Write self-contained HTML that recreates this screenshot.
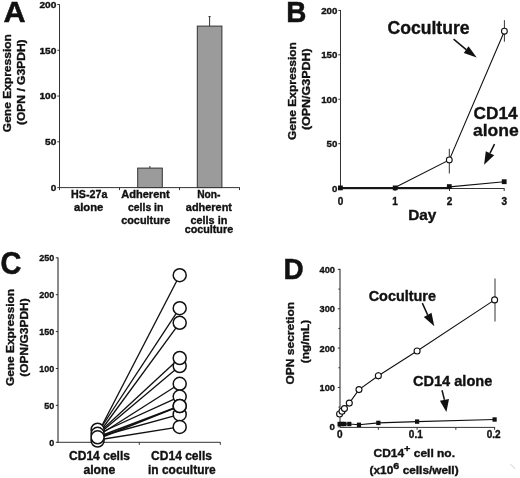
<!DOCTYPE html>
<html><head><meta charset="utf-8"><style>
html,body{margin:0;padding:0;background:#fff;}
body{width:520px;height:478px;overflow:hidden;}
svg{display:block;will-change:transform;}
text{font-family:"Liberation Sans",sans-serif;font-weight:bold;}
</style></head><body>
<svg width="520" height="478" viewBox="0 0 520 478" font-family="Liberation Sans, sans-serif" font-weight="bold" fill="#111">
<text x="0" y="0" transform="translate(3.40 22.40) scale(1.02 1)" font-size="30" text-anchor="start" stroke="#111" stroke-width="0.5" >A</text>
<line x1="59.50" y1="4.20" x2="59.50" y2="188.10" stroke="#333" stroke-width="1"/>
<line x1="57.30" y1="187.60" x2="59.50" y2="187.60" stroke="#333" stroke-width="1"/>
<text x="56.40" y="191.00" font-size="9.6" text-anchor="end" textLength="5.6" lengthAdjust="spacingAndGlyphs" stroke="#111" stroke-width="0.35" >0</text>
<line x1="57.30" y1="141.82" x2="59.50" y2="141.82" stroke="#333" stroke-width="1"/>
<text x="56.40" y="145.22" font-size="9.6" text-anchor="end" textLength="11.3" lengthAdjust="spacingAndGlyphs" stroke="#111" stroke-width="0.35" >50</text>
<line x1="57.30" y1="96.05" x2="59.50" y2="96.05" stroke="#333" stroke-width="1"/>
<text x="56.40" y="99.45" font-size="9.6" text-anchor="end" textLength="17.0" lengthAdjust="spacingAndGlyphs" stroke="#111" stroke-width="0.35" >100</text>
<line x1="57.30" y1="50.28" x2="59.50" y2="50.28" stroke="#333" stroke-width="1"/>
<text x="56.40" y="53.68" font-size="9.6" text-anchor="end" textLength="17.0" lengthAdjust="spacingAndGlyphs" stroke="#111" stroke-width="0.35" >150</text>
<line x1="57.30" y1="4.50" x2="59.50" y2="4.50" stroke="#333" stroke-width="1"/>
<text x="56.40" y="7.90" font-size="9.6" text-anchor="end" textLength="17.0" lengthAdjust="spacingAndGlyphs" stroke="#111" stroke-width="0.35" >200</text>
<line x1="59.50" y1="187.60" x2="239.80" y2="187.60" stroke="#333" stroke-width="1"/>
<line x1="59.50" y1="187.60" x2="59.50" y2="190.10" stroke="#333" stroke-width="1"/>
<line x1="119.50" y1="187.60" x2="119.50" y2="190.10" stroke="#333" stroke-width="1"/>
<line x1="179.50" y1="187.60" x2="179.50" y2="190.10" stroke="#333" stroke-width="1"/>
<line x1="239.50" y1="187.60" x2="239.50" y2="190.10" stroke="#333" stroke-width="1"/>
<rect x="137.70" y="168.10" width="24.60" height="19.50" fill="#9b9b9b" stroke="#333" stroke-width="1"/>
<rect x="197.30" y="26.10" width="24.60" height="161.50" fill="#9b9b9b" stroke="#333" stroke-width="1"/>
<line x1="149.90" y1="166.00" x2="149.90" y2="168.10" stroke="#333" stroke-width="1"/>
<line x1="209.60" y1="16.60" x2="209.60" y2="26.10" stroke="#333" stroke-width="1"/>
<line x1="208.50" y1="16.60" x2="210.70" y2="16.60" stroke="#333" stroke-width="1"/>
<text x="89.20" y="198.30" font-size="10.4" text-anchor="middle" textLength="36.3" lengthAdjust="spacingAndGlyphs" stroke="#111" stroke-width="0.35" >HS-27a</text>
<text x="88.60" y="210.60" font-size="10.4" text-anchor="middle" textLength="29.4" lengthAdjust="spacingAndGlyphs" stroke="#111" stroke-width="0.35" >alone</text>
<text x="145.50" y="197.90" font-size="10.4" text-anchor="middle" textLength="48.5" lengthAdjust="spacingAndGlyphs" stroke="#111" stroke-width="0.35" >Adherent</text>
<text x="145.70" y="211.00" font-size="10.4" text-anchor="middle" textLength="35.4" lengthAdjust="spacingAndGlyphs" stroke="#111" stroke-width="0.35" >cells in</text>
<text x="145.70" y="223.50" font-size="10.4" text-anchor="middle" textLength="49.1" lengthAdjust="spacingAndGlyphs" stroke="#111" stroke-width="0.35" >coculture</text>
<text x="208.80" y="197.50" font-size="10.4" text-anchor="middle" textLength="23.3" lengthAdjust="spacingAndGlyphs" stroke="#111" stroke-width="0.35" >Non-</text>
<text x="208.90" y="210.60" font-size="10.4" text-anchor="middle" textLength="46.1" lengthAdjust="spacingAndGlyphs" stroke="#111" stroke-width="0.35" >adherent</text>
<text x="208.90" y="223.50" font-size="10.4" text-anchor="middle" textLength="36.9" lengthAdjust="spacingAndGlyphs" stroke="#111" stroke-width="0.35" >cells in</text>
<text x="208.90" y="232.70" font-size="10.4" text-anchor="middle" textLength="48.5" lengthAdjust="spacingAndGlyphs" stroke="#111" stroke-width="0.35" >coculture</text>
<text x="11.00" y="83.15" font-size="11.4" text-anchor="middle" textLength="98.1" lengthAdjust="spacingAndGlyphs" transform="rotate(-90 11.00 83.15)" stroke="#111" stroke-width="0.35" >Gene Expression</text>
<text x="25.40" y="82.25" font-size="11.4" text-anchor="middle" textLength="85.7" lengthAdjust="spacingAndGlyphs" transform="rotate(-90 25.40 82.25)" stroke="#111" stroke-width="0.35" >(OPN / G3PDH)</text>
<text x="0" y="0" transform="translate(286.30 21.80) scale(0.93 1)" font-size="30" text-anchor="start" stroke="#111" stroke-width="0.5" >B</text>
<line x1="340.50" y1="10.00" x2="340.50" y2="188.60" stroke="#333" stroke-width="1"/>
<line x1="338.30" y1="188.10" x2="340.50" y2="188.10" stroke="#333" stroke-width="1"/>
<text x="337.40" y="191.50" font-size="9.7" text-anchor="end" textLength="5.4" lengthAdjust="spacingAndGlyphs" stroke="#111" stroke-width="0.35" >0</text>
<line x1="338.30" y1="143.68" x2="340.50" y2="143.68" stroke="#333" stroke-width="1"/>
<text x="337.40" y="147.08" font-size="9.7" text-anchor="end" textLength="10.8" lengthAdjust="spacingAndGlyphs" stroke="#111" stroke-width="0.35" >50</text>
<line x1="338.30" y1="99.25" x2="340.50" y2="99.25" stroke="#333" stroke-width="1"/>
<text x="337.40" y="102.65" font-size="9.7" text-anchor="end" textLength="16.2" lengthAdjust="spacingAndGlyphs" stroke="#111" stroke-width="0.35" >100</text>
<line x1="338.30" y1="54.82" x2="340.50" y2="54.82" stroke="#333" stroke-width="1"/>
<text x="337.40" y="58.22" font-size="9.7" text-anchor="end" textLength="16.2" lengthAdjust="spacingAndGlyphs" stroke="#111" stroke-width="0.35" >150</text>
<line x1="338.30" y1="10.40" x2="340.50" y2="10.40" stroke="#333" stroke-width="1"/>
<text x="337.40" y="13.80" font-size="9.7" text-anchor="end" textLength="16.2" lengthAdjust="spacingAndGlyphs" stroke="#111" stroke-width="0.35" >200</text>
<line x1="340.50" y1="188.50" x2="504.50" y2="188.50" stroke="#333" stroke-width="1"/>
<line x1="395.00" y1="188.50" x2="395.00" y2="191.00" stroke="#333" stroke-width="1"/>
<line x1="449.50" y1="188.50" x2="449.50" y2="191.00" stroke="#333" stroke-width="1"/>
<line x1="504.20" y1="188.50" x2="504.20" y2="191.00" stroke="#333" stroke-width="1"/>
<text x="340.50" y="205.00" font-size="10" text-anchor="middle" stroke="#111" stroke-width="0.35" >0</text>
<text x="395.00" y="205.00" font-size="10" text-anchor="middle" stroke="#111" stroke-width="0.35" >1</text>
<text x="449.50" y="205.00" font-size="10" text-anchor="middle" stroke="#111" stroke-width="0.35" >2</text>
<text x="504.20" y="205.00" font-size="10" text-anchor="middle" stroke="#111" stroke-width="0.35" >3</text>
<text x="422.30" y="219.90" font-size="14.5" text-anchor="middle" textLength="28.2" lengthAdjust="spacingAndGlyphs" stroke="#111" stroke-width="0.35" >Day</text>
<text x="296.00" y="91.10" font-size="11.5" text-anchor="middle" textLength="98.0" lengthAdjust="spacingAndGlyphs" transform="rotate(-90 296.00 91.10)" stroke="#111" stroke-width="0.35" >Gene Expression</text>
<text x="309.60" y="89.20" font-size="11.5" text-anchor="middle" textLength="81.8" lengthAdjust="spacingAndGlyphs" transform="rotate(-90 309.60 89.20)" stroke="#111" stroke-width="0.35" >(OPN/G3PDH)</text>
<rect x="340.50" y="187.00" width="108.80" height="2.20" fill="#161616" stroke="none" stroke-width="0"/>
<path d="M449.5,186.9 L504.2,181.7" stroke="#111" stroke-width="1.1" fill="none"/>
<path d="M395.0,187.4 L449.3,159.9 L504.4,31.2" stroke="#111" stroke-width="1.1" fill="none"/>
<line x1="449.30" y1="148.80" x2="449.30" y2="173.50" stroke="#333" stroke-width="1"/>
<line x1="504.40" y1="20.20" x2="504.40" y2="41.70" stroke="#333" stroke-width="1"/>
<circle cx="449.30" cy="159.90" r="2.9" stroke="#111" stroke-width="1.1" fill="#fff"/>
<circle cx="504.40" cy="31.20" r="2.9" stroke="#111" stroke-width="1.1" fill="#fff"/>
<rect x="338.00" y="185.50" width="4.80" height="4.80" fill="#111" stroke="none" stroke-width="0"/>
<rect x="392.80" y="185.50" width="4.80" height="4.80" fill="#111" stroke="none" stroke-width="0"/>
<rect x="446.90" y="184.20" width="4.80" height="4.80" fill="#111" stroke="none" stroke-width="0"/>
<rect x="501.80" y="179.30" width="4.80" height="4.80" fill="#111" stroke="none" stroke-width="0"/>
<text x="387.50" y="33.70" font-size="17.5" text-anchor="start" textLength="82.1" lengthAdjust="spacingAndGlyphs" stroke="#111" stroke-width="0.35" >Coculture</text>
<text x="473.60" y="119.00" font-size="17" text-anchor="start" textLength="44.1" lengthAdjust="spacingAndGlyphs" stroke="#111" stroke-width="0.35" >CD14</text>
<text x="472.90" y="135.80" font-size="17" text-anchor="start" textLength="45.8" lengthAdjust="spacingAndGlyphs" stroke="#111" stroke-width="0.35" >alone</text>
<line x1="453.60" y1="39.20" x2="466.15" y2="49.70" stroke="#111" stroke-width="1.5"/>
<path d="M476.70,57.50 L468.50,46.30 L463.80,53.10 Z" fill="#111"/>
<line x1="494.50" y1="144.10" x2="490.00" y2="153.20" stroke="#111" stroke-width="1.5"/>
<path d="M484.10,164.80 L485.80,151.20 L494.20,155.20 Z" fill="#111"/>
<text x="0" y="0" transform="translate(0.60 274.10) scale(0.95 1)" font-size="30.5" text-anchor="start" stroke="#111" stroke-width="0.5" >C</text>
<line x1="58.00" y1="257.50" x2="58.00" y2="442.80" stroke="#8a8a8a" stroke-width="2"/>
<line x1="55.80" y1="442.30" x2="58.00" y2="442.30" stroke="#333" stroke-width="1"/>
<text x="54.20" y="445.70" font-size="9.8" text-anchor="end" textLength="5.0" lengthAdjust="spacingAndGlyphs" stroke="#111" stroke-width="0.35" >0</text>
<line x1="55.80" y1="405.40" x2="58.00" y2="405.40" stroke="#333" stroke-width="1"/>
<text x="54.20" y="408.80" font-size="9.8" text-anchor="end" textLength="10.0" lengthAdjust="spacingAndGlyphs" stroke="#111" stroke-width="0.35" >50</text>
<line x1="55.80" y1="368.50" x2="58.00" y2="368.50" stroke="#333" stroke-width="1"/>
<text x="54.20" y="371.90" font-size="9.8" text-anchor="end" textLength="15.0" lengthAdjust="spacingAndGlyphs" stroke="#111" stroke-width="0.35" >100</text>
<line x1="55.80" y1="331.60" x2="58.00" y2="331.60" stroke="#333" stroke-width="1"/>
<text x="54.20" y="335.00" font-size="9.8" text-anchor="end" textLength="15.0" lengthAdjust="spacingAndGlyphs" stroke="#111" stroke-width="0.35" >150</text>
<line x1="55.80" y1="294.70" x2="58.00" y2="294.70" stroke="#333" stroke-width="1"/>
<text x="54.20" y="298.10" font-size="9.8" text-anchor="end" textLength="15.0" lengthAdjust="spacingAndGlyphs" stroke="#111" stroke-width="0.35" >200</text>
<line x1="55.80" y1="257.80" x2="58.00" y2="257.80" stroke="#333" stroke-width="1"/>
<text x="54.20" y="261.20" font-size="9.8" text-anchor="end" textLength="15.0" lengthAdjust="spacingAndGlyphs" stroke="#111" stroke-width="0.35" >250</text>
<line x1="58.00" y1="442.30" x2="220.50" y2="442.30" stroke="#333" stroke-width="1"/>
<line x1="139.30" y1="442.30" x2="139.30" y2="444.80" stroke="#333" stroke-width="1"/>
<line x1="220.30" y1="442.30" x2="220.30" y2="444.80" stroke="#333" stroke-width="1"/>
<text x="14.10" y="337.50" font-size="11.5" text-anchor="middle" textLength="97.2" lengthAdjust="spacingAndGlyphs" transform="rotate(-90 14.10 337.50)" stroke="#111" stroke-width="0.35" >Gene Expression</text>
<text x="28.00" y="337.50" font-size="11.5" text-anchor="middle" textLength="78.4" lengthAdjust="spacingAndGlyphs" transform="rotate(-90 28.00 337.50)" stroke="#111" stroke-width="0.35" >(OPN/G3PDH)</text>
<text x="99.50" y="459.90" font-size="12" text-anchor="middle" textLength="61.0" lengthAdjust="spacingAndGlyphs" stroke="#111" stroke-width="0.35" >CD14 cells</text>
<text x="99.40" y="474.40" font-size="12" text-anchor="middle" textLength="32.0" lengthAdjust="spacingAndGlyphs" stroke="#111" stroke-width="0.35" >alone</text>
<text x="181.50" y="459.90" font-size="12" text-anchor="middle" textLength="60.9" lengthAdjust="spacingAndGlyphs" stroke="#111" stroke-width="0.35" >CD14 cells</text>
<text x="181.90" y="474.40" font-size="12" text-anchor="middle" textLength="67.7" lengthAdjust="spacingAndGlyphs" stroke="#111" stroke-width="0.35" >in coculture</text>
<line x1="97.60" y1="434.00" x2="179.70" y2="275.20" stroke="#111" stroke-width="1.35"/>
<line x1="97.60" y1="433.00" x2="179.70" y2="308.20" stroke="#111" stroke-width="1.35"/>
<line x1="97.60" y1="435.00" x2="179.70" y2="322.80" stroke="#111" stroke-width="1.35"/>
<line x1="97.60" y1="434.00" x2="179.70" y2="358.00" stroke="#111" stroke-width="1.35"/>
<line x1="97.60" y1="435.00" x2="179.70" y2="366.00" stroke="#111" stroke-width="1.35"/>
<line x1="97.60" y1="436.00" x2="179.70" y2="383.80" stroke="#111" stroke-width="1.35"/>
<line x1="97.60" y1="434.00" x2="179.70" y2="396.60" stroke="#111" stroke-width="1.35"/>
<line x1="97.60" y1="437.00" x2="179.70" y2="406.00" stroke="#111" stroke-width="1.35"/>
<line x1="97.60" y1="439.00" x2="179.70" y2="406.00" stroke="#111" stroke-width="1.35"/>
<line x1="97.60" y1="437.00" x2="179.70" y2="414.40" stroke="#111" stroke-width="1.35"/>
<line x1="97.60" y1="440.00" x2="179.70" y2="426.90" stroke="#111" stroke-width="1.35"/>
<circle cx="97.60" cy="429.70" r="6.5" stroke="#111" stroke-width="1.5" fill="#fff"/>
<circle cx="97.60" cy="433.80" r="6.5" stroke="#111" stroke-width="1.5" fill="#fff"/>
<circle cx="97.60" cy="440.50" r="6.5" stroke="#111" stroke-width="1.5" fill="#fff"/>
<circle cx="97.60" cy="437.30" r="6.5" stroke="#111" stroke-width="1.5" fill="#fff"/>
<circle cx="179.70" cy="275.20" r="6.5" stroke="#111" stroke-width="1.5" fill="#fff"/>
<circle cx="179.70" cy="308.20" r="6.5" stroke="#111" stroke-width="1.5" fill="#fff"/>
<circle cx="179.70" cy="322.80" r="6.5" stroke="#111" stroke-width="1.5" fill="#fff"/>
<circle cx="179.70" cy="366.00" r="6.5" stroke="#111" stroke-width="1.5" fill="#fff"/>
<circle cx="179.70" cy="358.00" r="6.5" stroke="#111" stroke-width="1.5" fill="#fff"/>
<circle cx="179.70" cy="383.80" r="6.5" stroke="#111" stroke-width="1.5" fill="#fff"/>
<circle cx="179.70" cy="396.60" r="6.5" stroke="#111" stroke-width="1.5" fill="#fff"/>
<circle cx="179.70" cy="414.40" r="6.5" stroke="#111" stroke-width="1.5" fill="#fff"/>
<circle cx="179.70" cy="406.00" r="6.5" stroke="#111" stroke-width="1.5" fill="#fff"/>
<circle cx="179.70" cy="406.00" r="6.5" stroke="#111" stroke-width="1.5" fill="#fff"/>
<circle cx="179.70" cy="426.90" r="6.5" stroke="#111" stroke-width="1.5" fill="#fff"/>
<text x="0" y="0" transform="translate(283.40 279.40) scale(0.93 1)" font-size="30" text-anchor="start" stroke="#111" stroke-width="0.5" >D</text>
<line x1="340.00" y1="268.70" x2="340.00" y2="427.30" stroke="#8f8f8f" stroke-width="2"/>
<line x1="337.80" y1="426.80" x2="340.00" y2="426.80" stroke="#333" stroke-width="1"/>
<text x="335.00" y="430.20" font-size="9.8" text-anchor="end" textLength="5.4" lengthAdjust="spacingAndGlyphs" stroke="#111" stroke-width="0.35" >0</text>
<line x1="338.40" y1="407.12" x2="340.00" y2="407.12" stroke="#333" stroke-width="1"/>
<line x1="337.80" y1="387.45" x2="340.00" y2="387.45" stroke="#333" stroke-width="1"/>
<text x="335.00" y="390.85" font-size="9.8" text-anchor="end" textLength="15.5" lengthAdjust="spacingAndGlyphs" stroke="#111" stroke-width="0.35" >100</text>
<line x1="338.40" y1="367.77" x2="340.00" y2="367.77" stroke="#333" stroke-width="1"/>
<line x1="337.80" y1="348.10" x2="340.00" y2="348.10" stroke="#333" stroke-width="1"/>
<text x="335.00" y="351.50" font-size="9.8" text-anchor="end" textLength="15.5" lengthAdjust="spacingAndGlyphs" stroke="#111" stroke-width="0.35" >200</text>
<line x1="338.40" y1="328.43" x2="340.00" y2="328.43" stroke="#333" stroke-width="1"/>
<line x1="337.80" y1="308.75" x2="340.00" y2="308.75" stroke="#333" stroke-width="1"/>
<text x="335.00" y="312.15" font-size="9.8" text-anchor="end" textLength="15.5" lengthAdjust="spacingAndGlyphs" stroke="#111" stroke-width="0.35" >300</text>
<line x1="338.40" y1="289.08" x2="340.00" y2="289.08" stroke="#333" stroke-width="1"/>
<line x1="337.80" y1="269.40" x2="340.00" y2="269.40" stroke="#333" stroke-width="1"/>
<text x="335.00" y="272.80" font-size="9.8" text-anchor="end" textLength="15.5" lengthAdjust="spacingAndGlyphs" stroke="#111" stroke-width="0.35" >400</text>
<line x1="340.00" y1="427.40" x2="495.10" y2="427.40" stroke="#333" stroke-width="1"/>
<line x1="378.35" y1="427.40" x2="378.35" y2="429.80" stroke="#333" stroke-width="1"/>
<line x1="417.10" y1="427.40" x2="417.10" y2="429.80" stroke="#333" stroke-width="1"/>
<line x1="455.85" y1="427.40" x2="455.85" y2="429.80" stroke="#333" stroke-width="1"/>
<line x1="494.60" y1="427.40" x2="494.60" y2="429.80" stroke="#333" stroke-width="1"/>
<text x="339.80" y="438.20" font-size="10" text-anchor="middle" stroke="#111" stroke-width="0.35" >0</text>
<text x="415.80" y="438.20" font-size="10" text-anchor="middle" stroke="#111" stroke-width="0.35" >0.1</text>
<text x="493.60" y="438.20" font-size="10" text-anchor="middle" stroke="#111" stroke-width="0.35" >0.2</text>
<text x="294.40" y="343.20" font-size="11.5" text-anchor="middle" textLength="82.6" lengthAdjust="spacingAndGlyphs" transform="rotate(-90 294.40 343.20)" stroke="#111" stroke-width="0.35" >OPN secretion</text>
<text x="309.00" y="341.50" font-size="11.5" text-anchor="middle" textLength="43.5" lengthAdjust="spacingAndGlyphs" transform="rotate(-90 309.00 341.50)" stroke="#111" stroke-width="0.35" >(ng/mL)</text>
<text x="373.5" y="456.7" font-size="10.4" textLength="81.5" lengthAdjust="spacingAndGlyphs" stroke="#111" stroke-width="0.35">CD14<tspan font-size="9.5" dy="-4.6">+</tspan><tspan dy="4.6"> cell no.</tspan></text>
<text x="369.6" y="474.0" font-size="10.4" textLength="89" lengthAdjust="spacingAndGlyphs" stroke="#111" stroke-width="0.35">(x10<tspan font-size="9.5" dy="-4.8">6</tspan><tspan dy="4.8"> cells/well)</tspan></text>
<path d="M339.60,414.00 L342.02,411.20 L344.44,408.60 L349.29,403.10 L358.98,389.60 L378.35,375.70 L417.10,351.00 L494.60,299.90" stroke="#111" stroke-width="1.1" fill="none"/>
<line x1="495.00" y1="278.50" x2="495.00" y2="321.60" stroke="#777" stroke-width="1.5"/>
<line x1="378.35" y1="372.00" x2="378.35" y2="379.50" stroke="#444" stroke-width="1"/>
<circle cx="339.60" cy="414.00" r="3.0" stroke="#111" stroke-width="1.1" fill="#fff"/>
<circle cx="342.02" cy="411.20" r="3.0" stroke="#111" stroke-width="1.1" fill="#fff"/>
<circle cx="344.44" cy="408.60" r="3.0" stroke="#111" stroke-width="1.1" fill="#fff"/>
<circle cx="349.29" cy="403.10" r="3.0" stroke="#111" stroke-width="1.1" fill="#fff"/>
<circle cx="358.98" cy="389.60" r="3.0" stroke="#111" stroke-width="1.1" fill="#fff"/>
<circle cx="378.35" cy="375.70" r="3.0" stroke="#111" stroke-width="1.1" fill="#fff"/>
<circle cx="417.10" cy="351.00" r="3.0" stroke="#111" stroke-width="1.1" fill="#fff"/>
<circle cx="494.60" cy="299.90" r="3.0" stroke="#111" stroke-width="1.1" fill="#fff"/>
<path d="M339.60,424.00 L342.02,424.00 L344.44,424.00 L349.29,424.00 L358.98,424.80 L378.35,422.90 L417.10,421.60 L494.60,419.50" stroke="#111" stroke-width="1.1" fill="none"/>
<rect x="337.50" y="421.80" width="4.20" height="4.40" fill="#111" stroke="none" stroke-width="0"/>
<rect x="339.92" y="421.80" width="4.20" height="4.40" fill="#111" stroke="none" stroke-width="0"/>
<rect x="342.34" y="421.80" width="4.20" height="4.40" fill="#111" stroke="none" stroke-width="0"/>
<rect x="347.19" y="421.80" width="4.20" height="4.40" fill="#111" stroke="none" stroke-width="0"/>
<rect x="356.88" y="422.60" width="4.20" height="4.40" fill="#111" stroke="none" stroke-width="0"/>
<rect x="376.25" y="420.70" width="4.20" height="4.40" fill="#111" stroke="none" stroke-width="0"/>
<rect x="415.00" y="419.40" width="4.20" height="4.40" fill="#111" stroke="none" stroke-width="0"/>
<rect x="492.50" y="417.30" width="4.20" height="4.40" fill="#111" stroke="none" stroke-width="0"/>
<text x="368.70" y="300.60" font-size="14.4" text-anchor="start" textLength="67.3" lengthAdjust="spacingAndGlyphs" stroke="#111" stroke-width="0.35" >Coculture</text>
<text x="413.00" y="385.50" font-size="14.4" text-anchor="start" textLength="79.3" lengthAdjust="spacingAndGlyphs" stroke="#111" stroke-width="0.35" >CD14 alone</text>
<line x1="422.30" y1="303.10" x2="427.65" y2="314.85" stroke="#111" stroke-width="1.5"/>
<path d="M434.30,326.20 L423.80,316.90 L431.50,312.80 Z" fill="#111"/>
<line x1="442.00" y1="390.20" x2="444.45" y2="399.80" stroke="#111" stroke-width="1.5"/>
<path d="M446.40,412.00 L439.90,400.70 L449.00,398.90 Z" fill="#111"/>
<line x1="510.20" y1="464.20" x2="515.30" y2="468.60" stroke="#d0d0d0" stroke-width="1"/>
</svg>
</body></html>
